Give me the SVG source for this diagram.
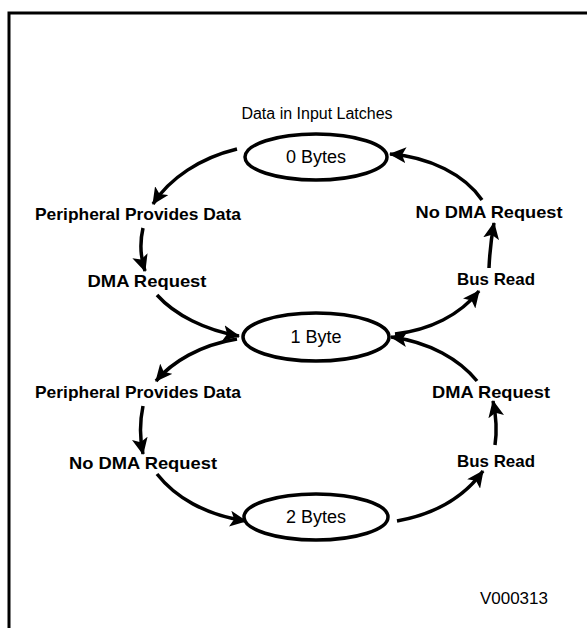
<svg xmlns="http://www.w3.org/2000/svg" width="587" height="628" viewBox="0 0 587 628">
<defs>
<marker id="ah" markerUnits="userSpaceOnUse" markerWidth="18" markerHeight="16" refX="16" refY="8" orient="auto">
<path d="M0,0 L17,8 L0,16 L4,8 z" fill="#000"/>
</marker>
<style>
.frame{fill:none;stroke:#000;stroke-width:3}
.node{fill:#fff;stroke:#000;stroke-width:3.5}
.lbl{font-family:"Liberation Sans",Arial,sans-serif;fill:#000;text-anchor:middle}
.nt{font-size:18px}
.st{font-size:17px;font-weight:bold}
.conn{fill:none;stroke:#000;stroke-width:3.5;marker-end:url(#ah)}
</style>
</defs>
<rect width="587" height="628" fill="#fff"/>
<path class="frame" d="M9,628 V13 H587"/>
<text class="lbl" x="317" y="119" font-size="16">Data in Input Latches</text>
<g id="n0">
<ellipse class="node" cx="316" cy="157" rx="71" ry="23"/>
<text class="lbl nt" x="316" y="163">0 Bytes</text>
</g>
<g id="n1">
<ellipse class="node" cx="316" cy="337" rx="73" ry="24"/>
<text class="lbl nt" x="316" y="343">1 Byte</text>
</g>
<g id="n2">
<ellipse class="node" cx="316" cy="517" rx="72" ry="23"/>
<text class="lbl nt" x="316" y="523">2 Bytes</text>
</g>
<g id="labels">
<text class="lbl st" x="138" y="220" textLength="206" lengthAdjust="spacingAndGlyphs">Peripheral Provides Data</text>
<text class="lbl st" x="147" y="287" textLength="119" lengthAdjust="spacingAndGlyphs">DMA Request</text>
<text class="lbl st" x="489" y="218" textLength="147" lengthAdjust="spacingAndGlyphs">No DMA Request</text>
<text class="lbl st" x="496" y="285" textLength="78" lengthAdjust="spacingAndGlyphs">Bus Read</text>
<text class="lbl st" x="138" y="398" textLength="206" lengthAdjust="spacingAndGlyphs">Peripheral Provides Data</text>
<text class="lbl st" x="143" y="469" textLength="148" lengthAdjust="spacingAndGlyphs">No DMA Request</text>
<text class="lbl st" x="491" y="398" textLength="118" lengthAdjust="spacingAndGlyphs">DMA Request</text>
<text class="lbl st" x="496" y="467" textLength="78" lengthAdjust="spacingAndGlyphs">Bus Read</text>
</g>
<text x="548" y="604" font-family="Liberation Sans, Arial, sans-serif" font-size="17" text-anchor="end">V000313</text>
<g id="connectors">
<path class="conn" d="M237,149 C200,158 170,178 153,204"/>
<path class="conn" d="M143,228 Q138,250 145,271"/>
<path class="conn" d="M157,295 C175,315 205,330 239,336"/>
<path class="conn" d="M395,334 C430,330 460,315 479,291"/>
<path class="conn" d="M489,268 Q490,245 494,223"/>
<path class="conn" d="M482,200 C465,175 430,157 390,154"/>
<path class="conn" d="M237,339 C200,345 172,362 156,381"/>
<path class="conn" d="M143,406 Q138,430 143,454"/>
<path class="conn" d="M157,474 C175,497 205,515 246,521"/>
<path class="conn" d="M397,521 C430,515 462,500 483,471"/>
<path class="conn" d="M495,445 Q498,425 493,401"/>
<path class="conn" d="M477,381 C460,360 430,342 391,337"/>
</g>
</svg>
